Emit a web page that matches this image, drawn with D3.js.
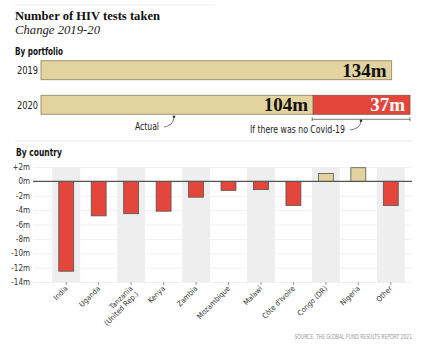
<!DOCTYPE html>
<html>
<head>
<meta charset="utf-8">
<script src="https://cdn.jsdelivr.net/npm/d3@7"></script>
<style>
  body { margin: 0; background: #fff; }
</style>
</head>
<body>
<div id="chart"></div>
<script>
// portfolio (millions)
var years = ["2019", "2020"];
var actual = [134, 104];
var missing = [0, 37];

// by country (millions, change 2019-20)
var countries = ["India", "Uganda", "Tanzania\n(United Rep.)", "Kenya", "Zambia", "Mozambique",
    "Malawi", "Côte d'Ivoire", "Congo (DR)", "Nigeria", "Other"];
var change = [-12.5, -4.8, -4.5, -4.15, -2.2, -1.25, -1.15, -3.35, 1.1, 1.9, -3.35];
var yTicks = [2, 0, -2, -4, -6, -8, -10, -12, -14];

var W = 429, H = 352;
var beige = "#e3d39e", red = "#e5463c";
var cond = "DejaVu Sans Condensed, Liberation Sans Narrow, sans-serif";
var serif = "Liberation Serif, serif";

var svg = d3.select("#chart").append("svg")
    .attr("width", W)
    .attr("height", H);

// text squeezed to the width it has in the reference
function label(x, y, str, size, len, opts) {
    opts = opts || {};
    var t = svg.append("text").attr("x", x).attr("y", y)
        .style("font-family", opts.family || cond)
        .style("font-size", size + "px")
        .attr("fill", opts.fill || "#222")
        .text(str);
    if (opts.bold) t.style("font-weight", "bold");
    if (opts.italic) t.style("font-style", "italic");
    if (opts.anchor) t.attr("text-anchor", opts.anchor);
    if (len) t.attr("textLength", len).attr("lengthAdjust", "spacingAndGlyphs");
    return t;
}

svg.append("line").attr("x1", 15).attr("x2", 215).attr("y1", 5).attr("y2", 5)
    .attr("stroke", "#eeeeee");

label(15, 20, "Number of HIV tests taken", 13.5, 145, {family: serif, bold: true, fill: "#111"});
label(15, 34, "Change 2019-20", 12.5, 85, {family: serif, italic: true});
label(15, 55, "By portfolio", 10.5, 48, {bold: true, fill: "#111"});

// ---- portfolio bars
var px = d3.scaleLinear().domain([0, 141]).range([41, 410]);
var py = d3.scaleBand().domain(years).range([59, 116]).paddingInner(0.45).paddingOuter(0.05);

years.forEach(function (yr, i) {
    var y0 = py(yr), bh = py.bandwidth();
    label(17, y0 + bh / 2 + 4, yr, 10, 21);
    svg.append("rect").attr("x", px(0)).attr("y", y0)
        .attr("width", px(actual[i]) - px(0)).attr("height", bh)
        .attr("fill", beige).attr("stroke", "#8a8060").attr("stroke-width", 0.8);
    label(px(actual[i]) - 5, y0 + bh / 2 + 6.5, actual[i] + "m", 19, null,
        {family: serif, bold: true, fill: "#111", anchor: "end"});
    if (missing[i] > 0) {
        svg.append("rect").attr("x", px(actual[i])).attr("y", y0)
            .attr("width", px(actual[i] + missing[i]) - px(actual[i])).attr("height", bh)
            .attr("fill", red).attr("stroke", "#8a4a40").attr("stroke-width", 0.8);
        label(px(actual[i] + missing[i]) - 5, y0 + bh / 2 + 6.5, missing[i] + "m", 19, null,
            {family: serif, bold: true, fill: "#fff", anchor: "end"});
    }
});

// annotations
var yb = py("2020") + py.bandwidth();
var br = svg.append("g").attr("stroke", "#555").attr("fill", "none").attr("stroke-width", 0.8);
br.append("line").attr("x1", px(104) - 1).attr("x2", px(141)).attr("y1", yb + 5).attr("y2", yb + 5);
br.append("line").attr("x1", px(104) - 1).attr("x2", px(104) - 1).attr("y1", yb + 3).attr("y2", yb + 7);
br.append("line").attr("x1", px(141)).attr("x2", px(141)).attr("y1", yb + 3).attr("y2", yb + 7);
br.append("path").attr("d", "M164,127 Q173,126 174," + (yb + 3));
br.append("path").attr("d", "M350,130 Q360,129 361," + (yb + 7));
svg.append("circle").attr("cx", 174).attr("cy", yb + 2.5).attr("r", 1.3).attr("fill", "#333");
svg.append("circle").attr("cx", 361).attr("cy", yb + 6.5).attr("r", 1.3).attr("fill", "#333");
label(135, 130, "Actual", 10, 24);
label(250, 133, "If there was no Covid-19", 10, 95);

svg.append("line").attr("x1", 15).attr("x2", 413).attr("y1", 141).attr("y2", 141)
    .attr("stroke", "#e8e8e8");
label(16, 156, "By country", 10.5, 46, {bold: true, fill: "#111"});

// ---- country chart
var x = d3.scaleBand().domain(countries).range([50, 407]);
var y = d3.scaleLinear().domain([-14, 2]).range([282, 167]);

var g = svg.append("g");
g.selectAll("rect.band").data(countries.filter(function (d, i) { return i % 2 == 0; }))
    .enter().append("rect").attr("class", "band")
    .attr("x", function (d) { return x(d) + x.step() * 0.07; })
    .attr("width", x.step() * 0.86)
    .attr("y", y(2)).attr("height", y(-14) - y(2))
    .attr("fill", "#eeeeee");

var yAxis = g.append("g").attr("transform", "translate(33,0)")
    .call(d3.axisLeft(y).tickValues(yTicks).tickSize(0).tickPadding(3)
        .tickFormat(function (d) { return (d > 0 ? "+" : "") + d + "m"; }));
yAxis.select(".domain").remove();
yAxis.selectAll("text").style("font-family", cond).style("font-size", "8px").attr("fill", "#333");
yAxis.selectAll(".tick").append("line").attr("x1", 0).attr("x2", 412 - 33)
    .attr("stroke", "#f0f0f0");

var bw = x.step() * 0.46;
g.selectAll("rect.bar").data(change).enter().append("rect").attr("class", "bar")
    .attr("x", function (d, i) { return x(countries[i]) + x.bandwidth() / 2 - bw / 2; })
    .attr("width", bw)
    .attr("y", function (d) { return y(Math.max(0, d)); })
    .attr("height", function (d) { return Math.abs(y(d) - y(0)); })
    .attr("fill", function (d) { return d < 0 ? red : beige; })
    .attr("stroke", "#555").attr("stroke-width", 0.8);

// zero line on top of the bars
g.append("line").attr("x1", 33).attr("x2", 412).attr("y1", y(0)).attr("y2", y(0))
    .attr("stroke", "#555").attr("stroke-width", 1.3);

var xAxis = g.append("g").attr("transform", "translate(0," + y(-14) + ")")
    .call(d3.axisBottom(x).tickSize(3).tickFormat(""));
xAxis.select(".domain").remove();
xAxis.selectAll(".tick line").attr("stroke", "#999");

var xl = g.selectAll("text.xl").data(countries).enter().append("text").attr("class", "xl")
    .attr("transform", function (d) {
        return "translate(" + (x(d) + x.bandwidth() / 2 + 2) + "," + (y(-14) + 7) + ") rotate(-45)";
    })
    .attr("text-anchor", "end")
    .style("font-family", cond).style("font-size", "7.5px").attr("fill", "#333");
xl.each(function (d) {
    var t = d3.select(this);
    d.split("\n").forEach(function (l, k) {
        t.append("tspan").attr("x", 0).attr("dy", k == 0 ? 0 : 8).text(l);
    });
});

// source line, squeezed horizontally like the narrow font of the original
svg.append("text").attr("transform", "translate(412,339) scale(0.72,1)")
    .attr("text-anchor", "end")
    .style("font-family", cond).style("font-size", "7px").attr("fill", "#999")
    .text("SOURCE: THE GLOBAL FUND RESULTS REPORT 2021");
</script>
</body>
</html>
